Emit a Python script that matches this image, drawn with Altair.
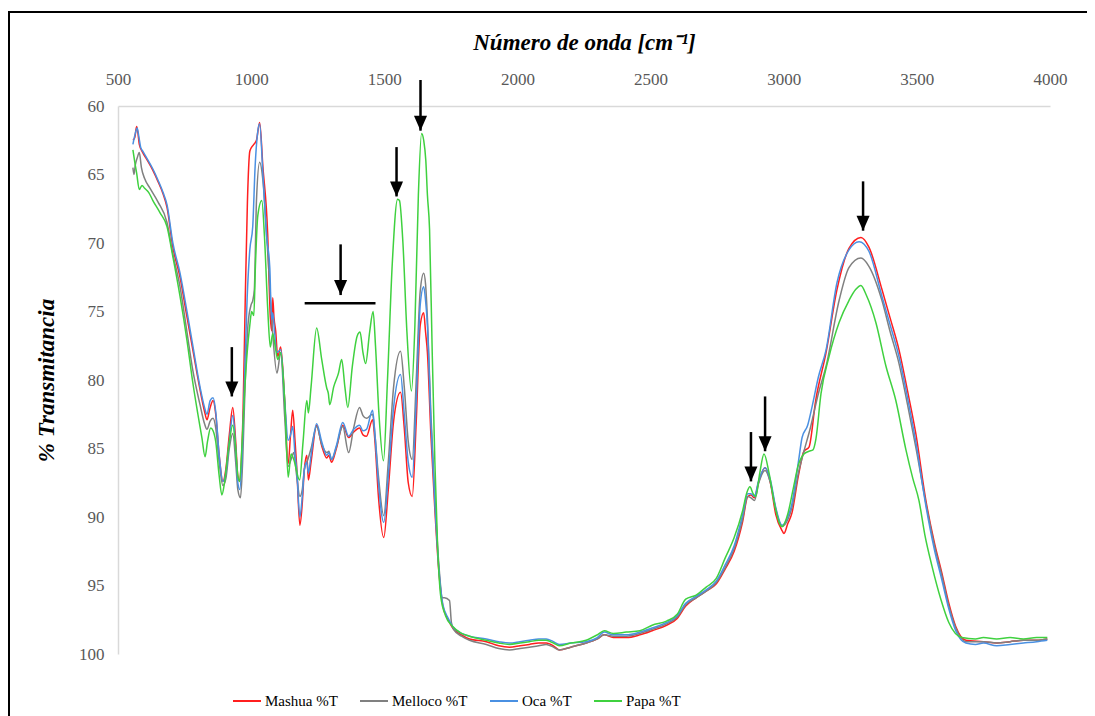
import altair as alt
import pandas as pd

# ---------------- data ----------------
mashua_wn = [556, 563, 570, 575, 580, 593, 608, 631, 650, 669, 684, 706, 733, 759, 781, 808, 825, 834, 846, 857, 867, 880, 894, 905, 918, 931, 942, 950, 957, 963, 970, 978, 986, 995, 1002, 1010, 1020, 1032, 1044, 1062, 1072, 1077, 1081, 1086, 1092, 1100, 1111, 1126, 1139, 1148, 1156, 1165, 1171, 1183, 1192, 1200, 1209, 1215, 1225, 1246, 1265, 1284, 1292, 1302, 1320, 1344, 1366, 1385, 1407, 1420, 1433, 1456, 1465, 1478, 1498, 1515, 1535, 1561, 1575, 1590, 1605, 1620, 1635, 1648, 1655, 1662, 1675, 1690, 1705, 1720, 1740, 1757, 1790, 1820, 1883, 1930, 1970, 2010, 2045, 2080, 2108, 2135, 2157, 2200, 2258, 2300, 2326, 2360, 2409, 2460, 2506, 2560, 2600, 2632, 2671, 2710, 2746, 2780, 2814, 2845, 2865, 2877, 2890, 2905, 2930, 2950, 2970, 2994, 3001, 3015, 3031, 3055, 3076, 3095, 3120, 3159, 3200, 3245, 3290, 3320, 3369, 3400, 3433, 3465, 3496, 3534, 3565, 3594, 3620, 3646, 3684, 3750, 3800, 3850, 3900, 3950, 3990]
mashua_t = [62.5, 62.3, 61.5, 62.0, 62.8, 63.4, 63.9, 64.7, 65.5, 66.4, 67.4, 70.3, 72.5, 75.4, 77.8, 80.7, 82.3, 82.9, 82.0, 81.5, 82.5, 85.5, 87.4, 86.5, 84.0, 82.0, 84.5, 87.0, 87.4, 86.0, 82.0, 74.0, 67.0, 63.3, 63.0, 62.8, 62.5, 61.2, 64.4, 69.3, 75.4, 76.4, 74.0, 75.5, 76.4, 78.3, 77.6, 81.5, 86.1, 84.0, 82.2, 84.5, 86.3, 90.6, 89.0, 86.5, 85.5, 87.3, 86.0, 83.3, 84.8, 85.7, 85.5, 86.0, 85.0, 83.3, 84.2, 83.8, 83.5, 84.0, 84.1, 82.9, 84.5, 88.5, 91.5, 88.0, 83.0, 80.9, 83.5, 87.5, 88.5, 83.0, 76.0, 75.1, 76.5, 78.0, 84.0, 89.5, 94.0, 96.5, 97.5, 98.1, 98.6, 98.9, 99.1, 99.4, 99.5, 99.4, 99.3, 99.2, 99.2, 99.4, 99.7, 99.5, 99.2, 98.9, 98.6, 98.8, 98.8, 98.6, 98.3, 97.9, 97.4, 96.5, 95.9, 95.4, 94.9, 93.8, 92.5, 90.4, 88.5, 88.4, 88.6, 87.5, 86.4, 87.5, 89.8, 91.0, 91.2, 90.5, 89.7, 87.0, 85.2, 84.9, 81.5, 78.0, 73.4, 70.4, 69.6, 70.3, 73.4, 75.5, 77.8, 80.8, 83.9, 88.8, 91.8, 94.1, 96.3, 98.0, 99.0, 99.1, 99.2, 99.1, 99.0, 99.0, 98.9]

melloco_wn = [556, 560, 565, 572, 580, 588, 600, 620, 650, 684, 706, 733, 759, 781, 808, 825, 834, 846, 857, 867, 880, 894, 905, 918, 931, 942, 950, 960, 968, 978, 988, 1000, 1006, 1012, 1020, 1032, 1044, 1060, 1070, 1081, 1097, 1111, 1126, 1139, 1150, 1160, 1171, 1183, 1192, 1200, 1213, 1225, 1246, 1265, 1284, 1292, 1302, 1320, 1344, 1366, 1385, 1407, 1420, 1433, 1456, 1465, 1478, 1498, 1515, 1535, 1561, 1575, 1590, 1605, 1620, 1635, 1648, 1655, 1662, 1675, 1690, 1705, 1719, 1726, 1745, 1752, 1760, 1790, 1820, 1883, 1930, 1970, 2010, 2045, 2080, 2108, 2135, 2157, 2200, 2258, 2300, 2326, 2360, 2409, 2460, 2506, 2560, 2600, 2632, 2671, 2710, 2746, 2780, 2814, 2845, 2865, 2877, 2890, 2905, 2930, 2950, 2970, 2994, 3015, 3031, 3055, 3076, 3100, 3130, 3159, 3208, 3245, 3290, 3320, 3369, 3400, 3433, 3465, 3496, 3534, 3565, 3594, 3620, 3646, 3684, 3750, 3800, 3850, 3900, 3950, 3990]
melloco_t = [64.5, 65.0, 64.3, 63.8, 63.4, 64.5, 65.3, 66.0, 67.0, 68.5, 70.8, 73.2, 76.5, 79.3, 81.8, 83.2, 83.6, 83.0, 82.8, 83.5, 86.0, 87.7, 87.2, 85.0, 83.9, 86.0, 88.0, 88.6, 86.0, 80.0, 76.0, 74.5, 74.2, 73.4, 66.9, 64.1, 65.4, 70.0, 73.2, 76.6, 79.5, 78.0, 82.7, 86.3, 85.8, 85.3, 87.0, 88.5, 88.0, 86.5, 85.8, 85.0, 83.4, 84.7, 85.3, 85.2, 85.8, 84.9, 83.4, 85.3, 83.5, 82.0, 82.6, 82.8, 82.5, 84.0, 87.0, 89.9, 86.0, 80.5, 77.9, 80.5, 84.5, 85.8, 80.0, 73.5, 72.2, 73.0, 75.5, 82.5, 88.5, 93.5, 95.9, 95.9, 96.1, 97.7, 98.2, 98.7, 99.0, 99.3, 99.6, 99.7, 99.6, 99.5, 99.4, 99.3, 99.5, 99.7, 99.5, 99.2, 98.9, 98.6, 98.7, 98.7, 98.5, 98.2, 97.8, 97.3, 96.4, 95.9, 95.4, 94.8, 93.7, 92.3, 90.2, 88.5, 88.6, 88.8, 87.6, 86.6, 87.5, 89.4, 90.7, 90.2, 89.3, 86.8, 85.2, 83.5, 81.0, 79.0, 74.2, 71.8, 71.1, 71.7, 74.2, 76.5, 78.8, 81.8, 84.9, 89.0, 92.0, 94.3, 96.5, 98.1, 99.1, 99.1, 99.2, 99.1, 99.0, 99.0, 98.9]

oca_wn = [556, 565, 572, 578, 585, 593, 608, 631, 650, 669, 684, 706, 733, 759, 781, 808, 825, 834, 846, 857, 867, 880, 894, 905, 918, 931, 942, 950, 957, 965, 975, 985, 995, 1006, 1015, 1024, 1032, 1044, 1058, 1070, 1077, 1081, 1088, 1096, 1111, 1126, 1139, 1148, 1156, 1165, 1171, 1183, 1192, 1200, 1209, 1215, 1225, 1246, 1265, 1284, 1292, 1302, 1320, 1344, 1366, 1385, 1407, 1420, 1433, 1456, 1465, 1478, 1498, 1515, 1535, 1561, 1575, 1590, 1605, 1620, 1635, 1648, 1655, 1662, 1675, 1690, 1705, 1720, 1740, 1757, 1790, 1820, 1883, 1930, 1970, 2010, 2045, 2080, 2108, 2135, 2157, 2200, 2258, 2300, 2326, 2360, 2409, 2460, 2506, 2560, 2600, 2632, 2671, 2710, 2746, 2780, 2814, 2845, 2865, 2877, 2890, 2905, 2930, 2950, 2970, 2994, 3015, 3031, 3055, 3069, 3090, 3106, 3130, 3159, 3200, 3245, 3283, 3320, 3369, 3400, 3433, 3465, 3496, 3534, 3565, 3594, 3620, 3646, 3684, 3720, 3750, 3800, 3850, 3900, 3950, 3990]
oca_t = [62.8, 62.0, 61.6, 62.2, 63.0, 63.3, 63.8, 64.6, 65.4, 66.3, 67.2, 70.0, 72.2, 75.0, 77.5, 80.5, 82.0, 82.5, 81.5, 81.3, 82.3, 85.5, 87.4, 86.8, 84.5, 82.6, 85.0, 87.5, 88.0, 86.0, 80.0, 74.0, 70.5, 68.8, 64.4, 62.0, 61.3, 64.9, 69.5, 71.8, 75.6, 75.1, 76.5, 78.0, 77.8, 81.5, 84.4, 84.0, 83.4, 85.5, 86.5, 90.0, 88.5, 86.5, 86.0, 86.8, 85.5, 83.2, 84.5, 85.5, 85.3, 85.8, 84.8, 83.1, 84.1, 83.6, 83.3, 83.7, 83.6, 82.2, 84.0, 87.5, 90.4, 87.0, 82.0, 79.6, 82.5, 86.0, 87.1, 81.5, 74.5, 73.2, 74.2, 76.0, 83.0, 89.0, 93.8, 96.4, 97.4, 98.0, 98.5, 98.7, 98.9, 99.1, 99.2, 99.1, 99.0, 98.9, 98.9, 99.1, 99.3, 99.2, 99.1, 98.8, 98.4, 98.6, 98.6, 98.4, 98.1, 97.7, 97.2, 96.3, 95.8, 95.3, 94.7, 93.5, 92.1, 89.9, 88.3, 88.3, 88.5, 87.4, 86.4, 87.3, 89.3, 90.6, 90.0, 89.0, 86.0, 84.2, 83.3, 82.0, 79.8, 77.8, 72.9, 70.5, 69.9, 70.6, 73.9, 76.0, 78.3, 81.3, 84.5, 89.2, 92.3, 94.6, 96.7, 98.3, 99.2, 99.3, 99.2, 99.4, 99.3, 99.2, 99.1, 99.0]

papa_wn = [556, 563, 570, 580, 590, 600, 615, 631, 658, 684, 706, 733, 759, 781, 800, 815, 827, 836, 848, 857, 867, 880, 890, 900, 915, 931, 942, 950, 957, 965, 975, 985, 995, 1002, 1010, 1016, 1025, 1040, 1050, 1062, 1072, 1081, 1090, 1100, 1111, 1126, 1139, 1150, 1160, 1182, 1195, 1209, 1215, 1225, 1246, 1265, 1284, 1290, 1295, 1310, 1328, 1340, 1352, 1363, 1380, 1398, 1409, 1420, 1430, 1445, 1458, 1467, 1480, 1497, 1512, 1530, 1550, 1557, 1570, 1585, 1602, 1615, 1628, 1640, 1648, 1656, 1662, 1670, 1680, 1690, 1700, 1712, 1730, 1757, 1790, 1820, 1883, 1930, 1970, 2010, 2045, 2080, 2108, 2135, 2157, 2200, 2258, 2300, 2326, 2360, 2409, 2460, 2506, 2560, 2600, 2632, 2671, 2710, 2746, 2780, 2814, 2845, 2862, 2873, 2885, 2895, 2910, 2926, 2945, 2965, 2985, 2994, 3015, 3035, 3055, 3076, 3095, 3110, 3121, 3140, 3170, 3208, 3245, 3270, 3290, 3310, 3346, 3384, 3421, 3459, 3485, 3508, 3530, 3557, 3590, 3620, 3669, 3720, 3750, 3800, 3850, 3900, 3950, 3990]
papa_t = [63.2, 64.1, 64.9, 66.1, 65.8, 66.0, 66.3, 66.9, 67.8, 68.8, 71.0, 73.9, 77.1, 80.2, 82.5, 84.2, 85.6, 84.5, 83.5, 83.7, 84.5, 87.0, 88.4, 87.5, 85.0, 83.3, 85.0, 87.0, 87.4, 85.0, 81.0, 78.0, 76.0, 75.0, 75.3, 71.7, 68.0, 66.9, 69.5, 74.7, 77.6, 76.6, 77.5, 78.5, 78.0, 81.5, 87.1, 85.4, 85.8, 87.3, 84.5, 81.5, 82.4, 80.5, 76.2, 78.5, 80.6, 81.0, 81.8, 80.5, 79.5, 78.5, 80.5, 82.0, 79.0, 76.8, 76.5, 78.0, 78.8, 76.5, 75.0, 77.5, 82.5, 85.9, 80.0, 71.5, 66.8, 66.9, 70.0, 76.5, 80.8, 76.0, 66.5, 62.0, 62.5, 64.0, 66.5, 69.0, 78.0, 86.0, 92.0, 95.8, 97.2, 98.0, 98.5, 98.7, 99.0, 99.2, 99.3, 99.2, 99.1, 99.0, 99.0, 99.2, 99.4, 99.2, 99.0, 98.6, 98.3, 98.5, 98.4, 98.3, 97.9, 97.6, 97.1, 96.0, 95.7, 95.1, 94.5, 93.0, 91.5, 89.6, 88.2, 87.8, 88.3, 88.5, 86.8, 85.4, 86.8, 89.0, 90.5, 90.7, 89.8, 88.0, 86.2, 85.4, 85.2, 85.1, 84.3, 81.0, 78.3, 75.8, 74.2, 73.4, 73.1, 73.8, 75.8, 79.0, 81.5, 85.1, 87.2, 88.8, 91.3, 93.6, 96.0, 97.7, 98.8, 98.9, 98.8, 98.9, 98.8, 98.9, 98.8, 98.8]

series_names = ["Mashua %T", "Melloco %T", "Oca %T", "Papa %T"]
series_colors = ["#ff1f1f", "#808080", "#4a90e2", "#3fd13f"]

# annotation arrows (wavenumber, top of shaft, tip) and the bracket line
arrow_wn = [927.5, 1336, 1546, 1636, 2877, 2930, 3298]
arrow_top = [77.6, 70.1, 63.0, 58.1, 83.8, 81.2, 65.5]
arrow_tip = [81.2, 73.8, 66.6, 61.8, 87.4, 85.2, 69.1]
bracket_wn = [1201, 1467]
bracket_t = [74.4]

# ---------------- build tables ----------------
rows = []
for name, wn, tv in zip(series_names,
                        [mashua_wn, melloco_wn, oca_wn, papa_wn],
                        [mashua_t, melloco_t, oca_t, papa_t]):
    for a, b in zip(wn, tv):
        rows.append({"serie": name, "wn": a, "t": b})
df = pd.DataFrame(rows)
arrows = pd.DataFrame({"wn": arrow_wn, "t": arrow_top, "t2": arrow_tip, "tip": arrow_tip})
bracket = pd.DataFrame({"wn": [bracket_wn[0]], "wn2": [bracket_wn[1]], "t": bracket_t})
frame = pd.DataFrame({"k": [0]})

SERIF = "Liberation Serif"
xs = alt.Scale(domain=[500, 4000], nice=False, zero=False)
ys = alt.Scale(domain=[60, 100], reverse=True, nice=False, zero=False)

x_axis = alt.Axis(
    orient="top", values=list(range(500, 4001, 500)), format="d", labelFlush=False,
    title="Número de onda [cm⁻¹]", ticks=False, tickSize=0, grid=False,
    labelFont=SERIF, labelFontSize=17, labelColor="#595959", labelPadding=18,
    domainColor="#d9d9d9", domainWidth=1.5,
    titleFont=SERIF, titleFontSize=23, titleFontStyle="italic", titleFontWeight="bold",
    titleColor="#000000", titlePadding=16)
y_axis = alt.Axis(
    values=list(range(60, 101, 5)), title="% Transmitancia", ticks=False, tickSize=0,
    labelFlush=False, grid=False, labelFont=SERIF, labelFontSize=17, labelColor="#595959",
    labelPadding=14, domainColor="#d9d9d9", domainWidth=1.5,
    titleFont=SERIF, titleFontSize=23, titleFontStyle="italic", titleFontWeight="bold",
    titleColor="#000000", titlePadding=20)

X = alt.X("wn:Q", scale=xs, axis=x_axis, title="Número de onda [cm⁻¹]")
Y = alt.Y("t:Q", scale=ys, axis=y_axis, title="% Transmitancia")

lines = alt.Chart(df).mark_line(strokeWidth=1.5, interpolate="monotone").encode(
    x=X, y=Y,
    color=alt.Color("serie:N", scale=alt.Scale(domain=series_names, range=series_colors),
                    legend=alt.Legend(orient="none", direction="horizontal", title=None,
                                      legendX=114, legendY=580, symbolType="stroke",
                                      symbolSize=784, symbolStrokeWidth=2,
                                      labelFont=SERIF, labelFontSize=15, labelColor="#000000",
                                      labelOffset=3, columnPadding=18)),
    order=alt.Order("wn:Q"),
)

shafts = alt.Chart(arrows).mark_rule(color="black", strokeWidth=2.5).encode(
    x=X, y=Y, y2="t2:Q",
)

heads = alt.Chart(arrows).mark_point(
    shape="M-0.87,-1L0.87,-1L0,1Z", size=225, filled=True, color="black",
    opacity=1, yOffset=-7.5).encode(
    x=X,
    y=alt.Y("tip:Q", scale=ys, axis=y_axis, title="% Transmitancia"),
)

bar = alt.Chart(bracket).mark_rule(color="black", strokeWidth=2.5).encode(
    x=X, x2="wn2:Q", y=Y,
)

# outer frame of the figure: top edge and left edge (the rest is cropped off)
frame_top = alt.Chart(frame).mark_rule(color="black", strokeWidth=2).encode(
    x=alt.value(-112), x2=alt.value(1100), y=alt.value(-94),
)
frame_left = alt.Chart(frame).mark_rule(color="black", strokeWidth=2).encode(
    x=alt.value(-109), y=alt.value(-95), y2=alt.value(720),
)

chart = alt.layer(lines, bar, shafts, heads, frame_top, frame_left).properties(
    width=932, height=548,
    autosize=alt.AutoSizeParams(type="none"),
    padding={"left": 110, "top": 98, "right": 37, "bottom": 62},
).configure(background="white", view=alt.ViewConfig(strokeWidth=0, stroke="transparent"))

chart.save("out.html", embed_options={"renderer": "svg", "actions": False})
